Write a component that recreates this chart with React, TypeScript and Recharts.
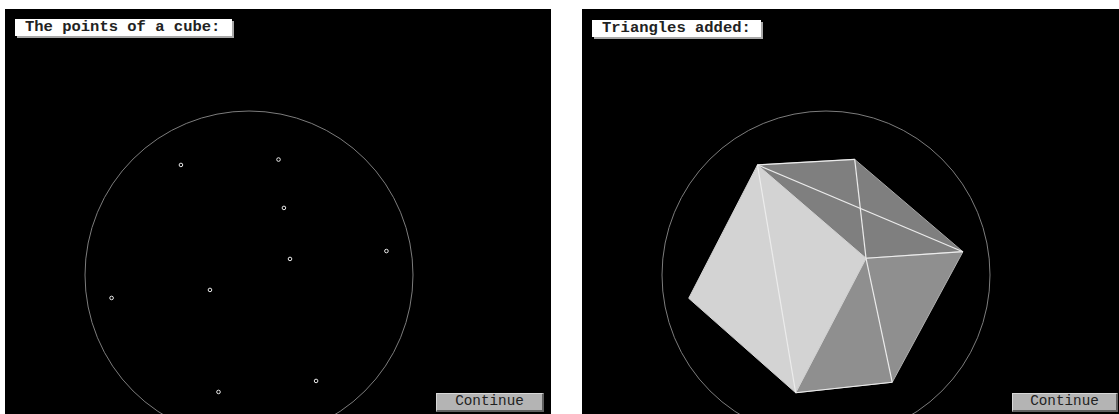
// App.tsx
import { ScatterChart, Scatter, XAxis, YAxis, ReferenceDot } from "recharts";

// all coordinates are in units of the bounding sphere radius, centre at (0, 0)
const cubePoints = [
  { x: -0.415, y: 0.671 },
  { x: 0.18, y: 0.704 },
  { x: 0.213, y: 0.409 },
  { x: 0.25, y: 0.098 },
  { x: 0.838, y: 0.146 },
  { x: -0.238, y: -0.091 },
  { x: -0.838, y: -0.14 },
  { x: -0.186, y: -0.713 },
  { x: 0.409, y: -0.646 },
];

const A = { x: -0.418, y: 0.671 };
const B = { x: 0.175, y: 0.705 };
const C = { x: 0.835, y: 0.142 };
const D = { x: 0.244, y: 0.102 };
const E = { x: -0.837, y: -0.142 };
const F = { x: -0.185, y: -0.718 };
const G = { x: 0.404, y: -0.654 };

const faces = [
  { points: [A, B, C, D], fill: "#7f7f7f", edge: "#a8a8a8" },
  { points: [D, C, G, F], fill: "#8f8f8f", edge: "#b0b0b0" },
  { points: [A, D, F, E], fill: "#d3d3d3", edge: "#d3d3d3" },
];

const triangleEdges = [
  [A, B],
  [B, D],
  [A, C],
  [D, C],
  [A, F],
  [D, G],
  [F, G],
];

const leftTitle = "The points of a cube:";
const rightTitle = "Triangles added:";
const buttonLabel = "Continue";

const RADIUS = 164;
const CENTER_X = 244;
const CENTER_Y = 266;
const PANEL_H = 405;

const MONO = '"Liberation Mono", "DejaVu Sans Mono", monospace';

function polygonLine(fill: string, edge: string) {
  return (props: any) => (
    <polygon
      points={props.points.map((p: any) => `${p.x},${p.y}`).join(" ")}
      fill={fill}
      stroke={edge}
      strokeWidth={1}
    />
  );
}

function PointMark(props: any) {
  return <circle cx={props.cx} cy={props.cy} r={1.8} fill="#000" stroke="#eeeeee" strokeWidth={1} />;
}

function Panel({ left, width, children }: { left: number; width: number; children: any }) {
  return (
    <div style={{ position: "absolute", left, top: 9 }}>
      <ScatterChart width={width} height={PANEL_H} margin={{ top: 0, right: 0, bottom: 0, left: 0 }}>
        <XAxis
          type="number"
          dataKey="x"
          hide
          domain={[-CENTER_X / RADIUS, (width - CENTER_X) / RADIUS]}
          allowDataOverflow
        />
        <YAxis
          type="number"
          dataKey="y"
          hide
          domain={[-(PANEL_H - CENTER_Y) / RADIUS, CENTER_Y / RADIUS]}
          allowDataOverflow
        />
        {children}
      </ScatterChart>
    </div>
  );
}

function TitleBox({ left, top, width, text }: { left: number; top: number; width: number; text: string }) {
  return (
    <div
      style={{
        position: "absolute",
        left,
        top,
        width,
        height: 17,
        background: "#fff",
        boxShadow: "2px 2px 0 #a8a8a8",
        fontFamily: MONO,
        fontWeight: 700,
        fontSize: 15.5,
        lineHeight: "16px",
        color: "#222",
        paddingLeft: 10,
        boxSizing: "border-box",
        whiteSpace: "pre",
      }}
    >
      {text}
    </div>
  );
}

function ContinueButton({ left, width }: { left: number; width: number }) {
  return (
    <div
      style={{
        position: "absolute",
        left,
        top: 393,
        width,
        height: 19,
        background: "#b4b4b4",
        borderTop: "1px solid #d8d8d8",
        borderLeft: "1px solid #d8d8d8",
        borderRight: "2px solid #606060",
        borderBottom: "2px solid #606060",
        boxSizing: "border-box",
        fontFamily: MONO,
        fontSize: 14.3,
        lineHeight: "15px",
        color: "#222",
        textAlign: "center",
      }}
    >
      {buttonLabel}
    </div>
  );
}

export default function App() {
  return (
    <div style={{ position: "absolute", left: 0, top: 0, width: 1119, height: 414, background: "#fff", overflow: "hidden" }}>
      <div style={{ position: "absolute", left: 5, top: 9, width: 546, height: 405, background: "#000" }} />
      <div style={{ position: "absolute", left: 582, top: 9, width: 537, height: 405, background: "#000" }} />

      <Panel left={5} width={546}>
        <ReferenceDot x={0} y={0} r={RADIUS} fill="none" stroke="#7c7c7c" strokeWidth={1} />
        <Scatter data={cubePoints} shape={PointMark} isAnimationActive={false} />
      </Panel>

      <Panel left={582} width={537}>
        <ReferenceDot x={0} y={0} r={RADIUS} fill="none" stroke="#7c7c7c" strokeWidth={1} />
        {faces.map((f, i) => (
          <Scatter
            key={i}
            data={f.points}
            line={polygonLine(f.fill, f.edge)}
            shape={() => <g />}
            isAnimationActive={false}
          />
        ))}
        {triangleEdges.map((seg, i) => (
          <Scatter
            key={i}
            data={seg}
            line={{ stroke: "#ececec", strokeWidth: 1.2 }}
            shape={() => <g />}
            isAnimationActive={false}
          />
        ))}
      </Panel>

      <TitleBox left={15} top={19} width={217} text={leftTitle} />
      <TitleBox left={592} top={20} width={169} text={rightTitle} />
      <ContinueButton left={436} width={108} />
      <ContinueButton left={1012} width={106} />
    </div>
  );
}
